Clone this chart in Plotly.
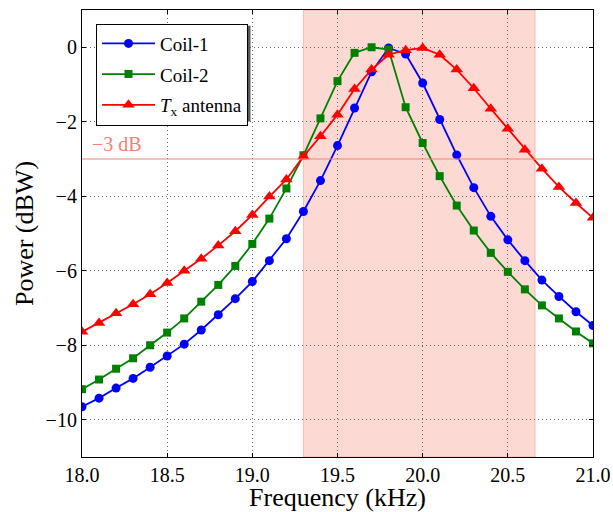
import plotly.graph_objects as go

freq = [round(18.0 + 0.1 * i, 1) for i in range(31)]

coil1 = [-9.65, -9.42, -9.15, -8.89, -8.59, -8.29, -7.97, -7.59, -7.18, -6.75,
         -6.29, -5.73, -5.14, -4.41, -3.58, -2.64, -1.63, -0.66, -0.02, -0.18,
         -0.96, -1.94, -2.89, -3.77, -4.54, -5.17, -5.73, -6.25, -6.69, -7.10, -7.47]

coil2 = [-9.18, -8.92, -8.63, -8.35, -8.00, -7.66, -7.28, -6.83, -6.38, -5.87,
         -5.28, -4.60, -3.79, -2.90, -1.91, -0.91, -0.15, 0.00, -0.06, -1.61,
         -2.57, -3.46, -4.25, -4.92, -5.52, -6.03, -6.50, -6.93, -7.28, -7.63, -7.95]

tx = [-7.64, -7.40, -7.14, -6.90, -6.63, -6.33, -6.00, -5.68, -5.32, -4.94,
      -4.50, -4.01, -3.55, -2.93, -2.39, -1.81, -1.12, -0.60, -0.20, -0.08,
      -0.02, -0.20, -0.60, -1.10, -1.65, -2.19, -2.75, -3.26, -3.75, -4.18, -4.58]

band = [19.3, 20.66]
ref_level = -3
xticks = [18.0, 18.5, 19.0, 19.5, 20.0, 20.5, 21.0]
yticks = [0, -2, -4, -6, -8, -10]

FONT = "Liberation Serif"

fig = go.Figure()
fig.add_trace(go.Scatter(x=freq, y=coil1, mode="lines+markers", name="Coil-1",
                         legendgroup="a",
                         line=dict(color="#0000FF", width=1.8),
                         marker=dict(symbol="circle", size=9, color="#0000FF")))
fig.add_trace(go.Scatter(x=freq, y=coil2, mode="lines+markers", name="Coil-2",
                         legendgroup="b",
                         line=dict(color="#008000", width=1.8),
                         marker=dict(symbol="square", size=8, color="#008000")))
fig.add_trace(go.Scatter(x=freq, y=tx, mode="lines+markers",
                         name="<i>T</i><sub>x</sub> antenna", legendgroup="c",
                         line=dict(color="#FF0000", width=1.8),
                         marker=dict(symbol="triangle-up", size=11, color="#FF0000")))

fig.add_shape(type="rect", xref="x", yref="paper", x0=band[0], x1=band[1], y0=0, y1=1,
              fillcolor="rgba(250,128,114,0.3)",
              line=dict(color="rgba(250,128,114,0.45)", width=1), layer="below")
fig.add_shape(type="line", xref="paper", yref="y", x0=0, x1=1, y0=ref_level, y1=ref_level,
              line=dict(color="#FA8072", width=1.2), layer="above")
fig.add_annotation(x=0.016, xref="paper", y=ref_level, yref="y", yshift=15,
                   text="\u22123 dB", showarrow=False, xanchor="left",
                   font=dict(family=FONT, size=20, color="#FA8072"))

# legend shadow
fig.add_shape(type="rect", xref="paper", yref="paper",
              x0=0.0313, x1=0.3297, y0=0.7504, y1=0.965,
              fillcolor="rgba(70,70,70,0.9)", line=dict(width=0), layer="above")

axis_common = dict(showline=True, linecolor="black", linewidth=1.2, mirror="ticks",
                   ticks="inside", ticklen=4, tickcolor="black", automargin=False,
                   showgrid=True, gridcolor="rgba(70,70,70,0.8)", griddash="1px,3px", gridwidth=1,
                   zeroline=False, tickfont=dict(family=FONT, size=20, color="black"))

fig.update_xaxes(range=[18.0, 21.0], tickvals=xticks, tickformat=".1f",
                 title=dict(text="Frequency (kHz)", font=dict(family=FONT, size=26, color="black"),
                            standoff=0),
                 **axis_common)
fig.update_yaxes(range=[-11, 1], tickvals=yticks,
                 title=dict(text="Power (dBW)", font=dict(family=FONT, size=26, color="black"),
                            standoff=4),
                 **axis_common)

fig.update_layout(
    width=613, height=512,
    font=dict(family=FONT, size=19, color="black"),
    margin=dict(l=82, r=20, t=10, b=55),
    plot_bgcolor="white", paper_bgcolor="white",
    showlegend=True,
    legend=dict(x=0.0274, y=0.9697, xanchor="left", yanchor="top",
                bgcolor="white", bordercolor="black", borderwidth=1,
                font=dict(family=FONT, size=19, color="black"),
                tracegroupgap=3, itemwidth=53),
)

fig.write_html("out.html", config={"displayModeBar": False},
               post_script="document.body.style.margin='0';")
